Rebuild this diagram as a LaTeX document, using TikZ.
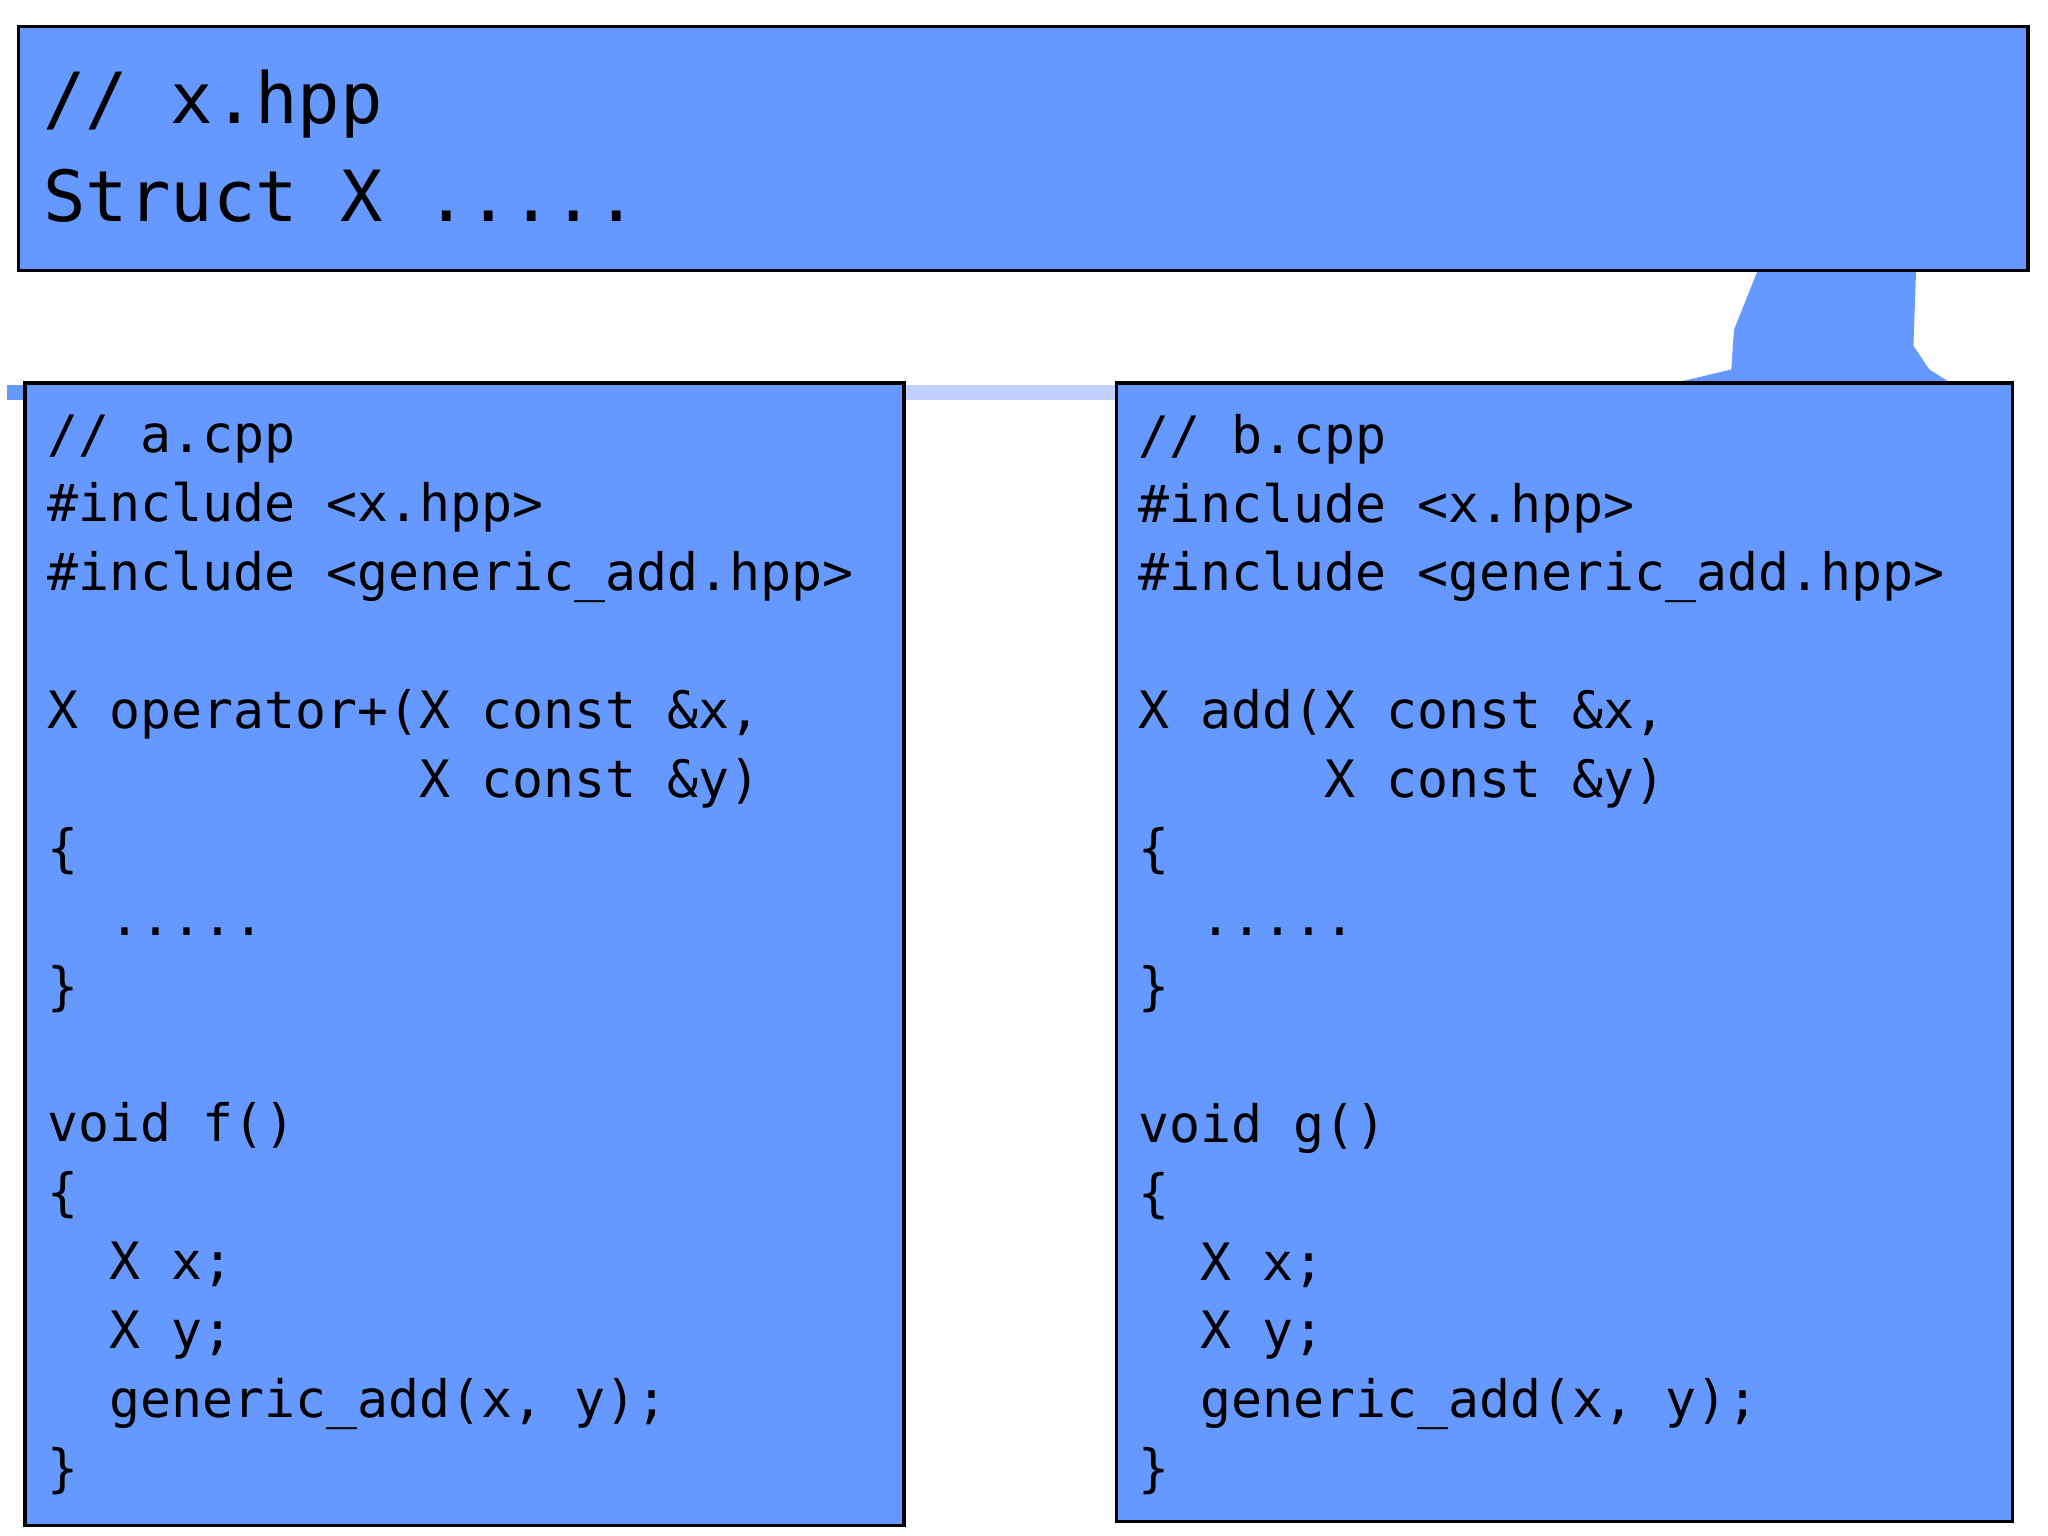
\documentclass[tikz,border=0pt]{standalone}
\usepackage{fontspec}
\setmonofont{DejaVu Sans Mono}
\definecolor{codeblue}{HTML}{6699FF}
\definecolor{fadeblue}{HTML}{C2D0FF}
\newcommand{\ind}[1]{\hphantom{#1}}

\begin{document}
\begin{tikzpicture}[x=0.01cm, y=-0.01cm,
    filebox/.style={draw=black, thick, fill=codeblue},
    code/.style={anchor=north west, inner sep=0pt, align=left,
        font=\ttfamily\fontsize{11.1}{14.85}\selectfont}]
    \useasboundingbox (0,0) rectangle (1552,1164);
    % faint bar and blob behind the boxes
    \fill[fadeblue] (5,292) rectangle (846,303);
    \fill[codeblue] (5,292) rectangle (20,303);
    \fill[codeblue] (1332,205) -- (1452,205) -- (1450,262) -- (1462,280)
        -- (1478,290) -- (1270,290) -- (1312,280) -- (1314,250) -- cycle;
    % header
    \path[filebox] (14,20) rectangle (1537,205);
    \node[code, font=\ttfamily\fontsize{15.2}{21.3}\selectfont] (XHT) at (32,52)
        {// x.hpp\\Struct X .....};
    % translation units
    \path[filebox] (19,290) rectangle (685,1156);
    \path[filebox] (846,290) rectangle (1525,1153);
    \node[code] (ACT) at (35,314) {%
        // a.cpp\\
        \#include <x.hpp>\\
        \#include <generic\_add.hpp>\\
        ~\\
        X operator+(X const \&x,\\
        \ind{X operator+(}X const \&y)\\
        \{\\
        \ind{xx}.....\\
        \}\\
        ~\\
        void f()\\
        \{\\
        \ind{xx}X x;\\
        \ind{xx}X y;\\
        \ind{xx}generic\_add(x, y);\\
        \}};
    \node[code] (BCT) at (862,313) {%
        // b.cpp\\
        \#include <x.hpp>\\
        \#include <generic\_add.hpp>\\
        ~\\
        X add(X const \&x,\\
        \ind{X add(}X const \&y)\\
        \{\\
        \ind{xx}.....\\
        \}\\
        ~\\
        void g()\\
        \{\\
        \ind{xx}X x;\\
        \ind{xx}X y;\\
        \ind{xx}generic\_add(x, y);\\
        \}};
\end{tikzpicture}
\end{document}
